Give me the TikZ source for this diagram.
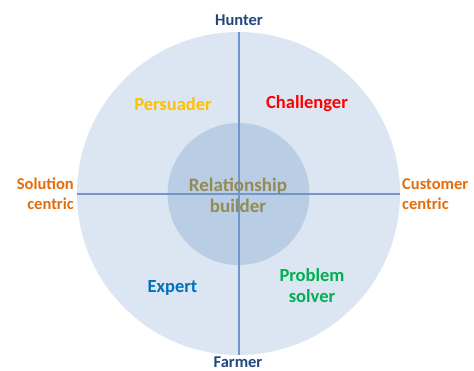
\documentclass[tikz,border=0pt]{standalone}
\usepackage{fontspec}
\setmainfont{Carlito}
\definecolor{outerfill}{RGB}{220,230,242}
\definecolor{innerfill}{RGB}{185,205,229}
\definecolor{axis}{RGB}{112,150,205}
\definecolor{navy}{RGB}{31,73,125}
\definecolor{orng}{RGB}{228,108,10}
\definecolor{yel}{RGB}{255,192,0}
\definecolor{rd}{RGB}{255,0,0}
\definecolor{blu}{RGB}{0,112,192}
\definecolor{grn}{RGB}{0,176,80}
\definecolor{olive}{RGB}{148,138,84}
\begin{document}
\begin{tikzpicture}[x=1pt,y=-1pt,
  lbl/.style={font=\bfseries\fontsize{16.5}{19.5}\selectfont, align=center, inner sep=0pt},
  qlbl/.style={font=\bfseries\fontsize{18.5}{21}\selectfont, align=center, inner sep=0pt},
  ctr/.style={font=\bfseries\fontsize{19}{21}\selectfont, align=center, inner sep=0pt}]
\useasboundingbox (0,0) rectangle (474,370);
\fill[outerfill] (238.5,193.5) circle (161.5);
\fill[innerfill] (238.5,194) circle (71);
\coordinate (top) at (238.5,32);
\coordinate (bot) at (238.5,355);
\coordinate (lft) at (77,193.5);
\coordinate (rgt) at (400,193.5);
\draw[axis, line width=2pt] (top) -- (bot);
\draw[axis, line width=2pt] (lft) -- (rgt);
\node[lbl, text=navy] (hunter) at (239,20) {Hunter};
\node[lbl, text=navy] (farmer) at (238,362) {Farmer};
\node[lbl, text=orng, align=right, anchor=east] (sol) at (74,194) {Solution\\centric};
\node[lbl, text=orng, align=left, anchor=west] (cus) at (402,194) {Customer\\centric};
\node[qlbl, text=yel] (pers) at (173,104) {Persuader};
\node[qlbl, text=rd] (chal) at (307,104) {Challenger};
\node[qlbl, text=blu] (exp) at (172.5,288) {Expert};
\node[qlbl, text=grn] (prob) at (312,286) {Problem\\solver};
\node[ctr, text=olive] (rel) at (238,195) {Relationship\\builder};
\end{tikzpicture}
\end{document}
